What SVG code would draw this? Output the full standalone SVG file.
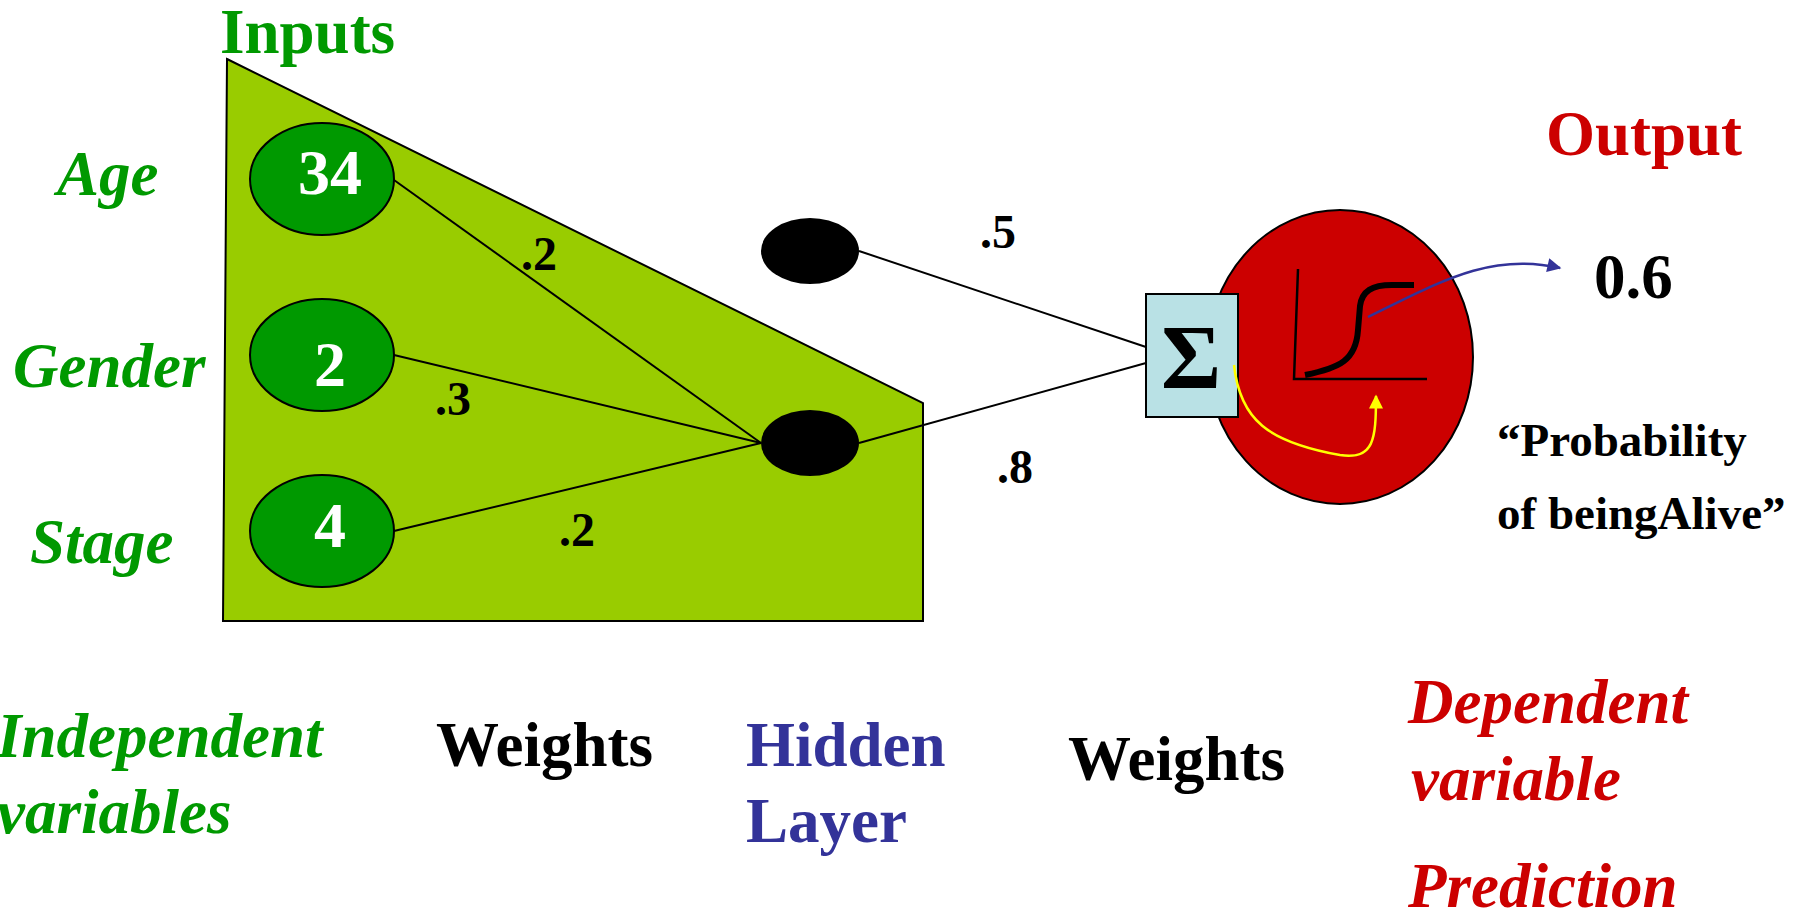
<svg xmlns="http://www.w3.org/2000/svg" width="1806" height="922" viewBox="0 0 1806 922">
<style>
text{font-family:"Liberation Serif","Times New Roman",serif;font-weight:bold}
.it{font-style:italic}
.g{fill:#009900}
.r{fill:#CC0000}
.b{fill:#333399}
.k{fill:#000}
.w{fill:#fff;text-anchor:middle;font-size:64px}
.wt{font-size:48px;fill:#000}
.ln{stroke:#000;stroke-width:2;fill:none}
.in{fill:#009900;stroke:#000;stroke-width:2}
.hid{fill:#000}
</style>
<defs>
<marker id="ab" viewBox="0 0 10 10" refX="9" refY="5" markerWidth="16" markerHeight="14" markerUnits="userSpaceOnUse" orient="auto"><path d="M0,0 L10,5 L0,10 z" fill="#333399"/></marker>
<marker id="ay" viewBox="0 0 10 10" refX="9" refY="5" markerWidth="16" markerHeight="14" markerUnits="userSpaceOnUse" orient="auto"><path d="M0,0 L10,5 L0,10 z" fill="#FFFF00"/></marker>
</defs>
<rect width="1806" height="922" fill="#fff"/>
<g id="input-region">
<polygon points="227,59 923,403 923,621 223,621" fill="#99CC00" stroke="#000" stroke-width="2"/>
</g>
<g id="labels-top">
<text class="g" x="220" y="53" font-size="63">Inputs</text>
<text class="g it" x="57" y="195" font-size="63">Age</text>
<text class="g it" x="13" y="387" font-size="63">Gender</text>
<text class="g it" x="30" y="563" font-size="63">Stage</text>
</g>
<g id="node-age">
<ellipse class="in" cx="322" cy="179" rx="72" ry="56"/>
<text class="w" x="330" y="194">34</text>
</g>
<g id="node-gender">
<ellipse class="in" cx="322" cy="355" rx="72" ry="56"/>
<text class="w" x="330" y="386">2</text>
</g>
<g id="node-stage">
<ellipse class="in" cx="322" cy="531" rx="72" ry="56"/>
<text class="w" x="330" y="547">4</text>
</g>
<g id="hidden-top">
<ellipse class="hid" cx="810" cy="251" rx="49" ry="33"/>
</g>
<g id="hidden-bottom">
<ellipse class="hid" cx="810" cy="443" rx="49" ry="33"/>
</g>
<g id="weights">
<text class="wt" x="521" y="270">.2</text>
<text class="wt" x="435" y="415">.3</text>
<text class="wt" x="559" y="546">.2</text>
<text class="wt" x="980" y="248">.5</text>
<text class="wt" x="997" y="483">.8</text>
</g>
<g id="output-node">
<ellipse cx="1340" cy="357" rx="133" ry="147" fill="#CC0000" stroke="#000" stroke-width="2"/>
<path d="M1298,269 L1294,379 L1427,379" fill="none" stroke="#000" stroke-width="2.5"/>
<path d="M1305,375 C1340,368 1356,360 1358,330 L1360,306 C1362,291 1372,285 1392,285 L1414,285" fill="none" stroke="#000" stroke-width="6"/>
</g>
<g id="sum-node">
<rect x="1146" y="294" width="92" height="123" fill="#B9E1E5" stroke="#000" stroke-width="2"/>
<text x="1191" y="388" font-size="92" text-anchor="middle" class="k">Σ</text>
</g>
<g id="connectors">
<line class="ln" x1="394" y1="180" x2="761" y2="443"/>
<line class="ln" x1="394" y1="355" x2="761" y2="443"/>
<line class="ln" x1="394" y1="531" x2="761" y2="443"/>
<line class="ln" x1="859" y1="443" x2="1146" y2="363"/>
<line class="ln" x1="859" y1="251" x2="1146" y2="347"/>
<path d="M1368,317 C1440,282 1490,252 1560,268" fill="none" stroke="#333399" stroke-width="2.5" marker-end="url(#ab)"/>
<path d="M1234,365 C1240,420 1268,442 1340,455 C1374,460 1376,440 1376,396" fill="none" stroke="#FFFF00" stroke-width="2.5" marker-end="url(#ay)"/>
</g>
<g id="output-labels">
<text class="r" x="1546" y="155" font-size="63">Output</text>
<text class="k" x="1594" y="298" font-size="63">0.6</text>
<text class="k" x="1497" y="456" font-size="47">“Probability</text>
<text class="k" x="1497" y="529" font-size="47">of beingAlive”</text>
</g>
<g id="labels-bottom">
<text class="g it" x="-3" y="757" font-size="63">Independent</text>
<text class="g it" x="-3" y="833" font-size="63">variables</text>
<text class="k" x="436" y="766" font-size="63">Weights</text>
<text class="b" x="746" y="766" font-size="63">Hidden</text>
<text class="b" x="746" y="842" font-size="63">Layer</text>
<text class="k" x="1068" y="780" font-size="63">Weights</text>
<text class="r it" x="1408" y="723" font-size="63">Dependent</text>
<text class="r it" x="1411" y="800" font-size="63">variable</text>
<text class="r it" x="1408" y="907" font-size="63">Prediction</text>
</g>
</svg>
